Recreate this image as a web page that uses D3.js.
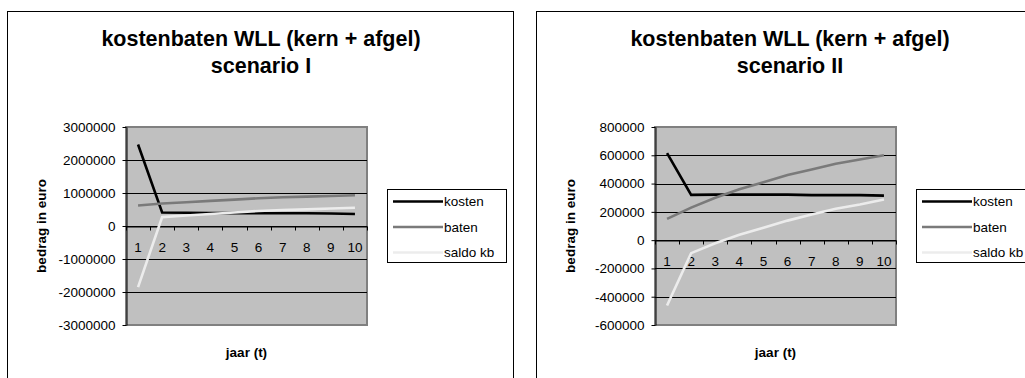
<!DOCTYPE html>
<html>
<head>
<meta charset="utf-8">
<script src="https://cdnjs.cloudflare.com/ajax/libs/d3/7.8.5/d3.min.js"></script>
<style>
  html, body { margin: 0; padding: 0; background: #fff; }
  svg { display: block; font-family: "Liberation Sans", Arial, sans-serif; }
</style>
</head>
<body>
<svg id="graphic" width="1025" height="378"></svg>
<script>
const years = ['1', '2', '3', '4', '5', '6', '7', '8', '9', '10'];
const seriesNames = ['kosten', 'baten', 'saldo kb'];

// scenario I
const kostenI = [2470000, 410000, 400000, 395000, 390000, 385000, 385000, 385000, 380000, 365000];
const batenI = [620000, 680000, 720000, 760000, 800000, 840000, 870000, 890000, 910000, 930000];
const saldoI = [-1850000, 270000, 320000, 365000, 410000, 455000, 485000, 505000, 530000, 555000];
const ticksI = [-3000000, -2000000, -1000000, 0, 1000000, 2000000, 3000000];

// scenario II
const kostenII = [615000, 320000, 322000, 322000, 322000, 322000, 318000, 318000, 318000, 315000];
const batenII = [150000, 230000, 300000, 360000, 410000, 460000, 500000, 540000, 570000, 600000];
const saldoII = [-462000, -92000, -22000, 38000, 88000, 138000, 182000, 222000, 252000, 287000];
const ticksII = [-600000, -400000, -200000, 0, 200000, 400000, 600000, 800000];

const lineColor = ['#000000', '#7a7a7a', '#ececec'];
const svg = d3.select('#graphic');

function drawChart(left, subtitle, series, ticks) {
  const g = svg.append('g').attr('transform', `translate(${left}, 0)`);

  // outer frame
  g.append('rect')
    .attr('x', 0.5).attr('y', 11.5)
    .attr('width', 506).attr('height', 400)
    .attr('fill', '#fff').attr('stroke', '#000').attr('stroke-width', 1);

  const title = g.append('text')
    .attr('text-anchor', 'middle')
    .attr('font-weight', 'bold')
    .attr('font-size', '21.5px');
  title.append('tspan').attr('x', 254).attr('y', 46).text('kostenbaten WLL (kern + afgel)');
  title.append('tspan').attr('x', 254).attr('y', 73).text(subtitle);

  const plot = { x: 119, y: 127, w: 241, h: 198 };
  const x = d3.scaleBand().domain(years).range([plot.x, plot.x + plot.w]);
  const y = d3.scaleLinear().domain(d3.extent(ticks)).range([plot.y + plot.h, plot.y]);

  g.append('rect')
    .attr('x', plot.x).attr('y', plot.y)
    .attr('width', plot.w).attr('height', plot.h)
    .attr('fill', '#c0c0c0').attr('stroke', '#808080').attr('stroke-width', 2);

  // gridlines (inner only)
  g.selectAll('.grid')
    .data(ticks.slice(1, -1))
    .enter().append('line')
    .attr('class', 'grid')
    .attr('x1', plot.x).attr('x2', plot.x + plot.w)
    .attr('y1', d => Math.round(y(d)) + 0.5).attr('y2', d => Math.round(y(d)) + 0.5)
    .attr('stroke', '#000').attr('stroke-width', 1);

  // y axis
  const yAxis = g.append('g')
    .attr('transform', `translate(${plot.x + 0.5}, 0)`)
    .call(d3.axisLeft(y).tickValues(ticks).tickSize(4).tickSizeOuter(0).tickPadding(7).tickFormat(d => String(d)));
  yAxis.select('.domain').attr('stroke', '#000');
  yAxis.selectAll('text').attr('font-size', '13.5px').attr('font-family', 'Liberation Sans, Arial, sans-serif').attr('fill', '#000');

  // x axis at zero
  const y0 = Math.round(y(0)) + 0.5;
  const xAxis = g.append('g')
    .attr('transform', `translate(0, ${y0})`)
    .call(d3.axisBottom(x).tickSize(0).tickPadding(15.5));
  xAxis.select('.domain').attr('stroke', '#000');
  xAxis.selectAll('text').attr('font-size', '13.5px').attr('font-family', 'Liberation Sans, Arial, sans-serif').attr('fill', '#000');
  const bounds = years.map(d => x(d)).concat([x.range()[1]]);
  xAxis.selectAll('.bound')
    .data(bounds)
    .enter().append('line')
    .attr('class', 'bound')
    .attr('x1', d => Math.round(d) + 0.5).attr('x2', d => Math.round(d) + 0.5)
    .attr('y1', 0).attr('y2', 4)
    .attr('stroke', '#000');

  // lines
  const line = d3.line()
    .x((d, i) => x(years[i]) + x.bandwidth() / 2)
    .y(d => y(d));
  series.forEach((s, i) => {
    g.append('path')
      .datum(s)
      .attr('d', line)
      .attr('fill', 'none')
      .attr('stroke', lineColor[i])
      .attr('stroke-width', 2.6)
      .attr('stroke-linejoin', 'miter');
  });

  // axis titles
  g.append('text')
    .attr('transform', `translate(${34}, ${226}) rotate(-90)`)
    .attr('text-anchor', 'middle')
    .attr('dy', '0.35em')
    .attr('font-weight', 'bold').attr('font-size', '13.5px')
    .text('bedrag in euro');
  g.append('text')
    .attr('x', plot.x + plot.w / 2).attr('y', 357)
    .attr('text-anchor', 'middle')
    .attr('font-weight', 'bold').attr('font-size', '13.5px')
    .text('jaar (t)');

  // legend
  const lg = g.append('g').attr('transform', 'translate(380, 189)');
  lg.append('rect')
    .attr('x', 0.5).attr('y', 0.5).attr('width', 119).attr('height', 73)
    .attr('fill', '#fff').attr('stroke', '#000');
  const item = lg.selectAll('.item')
    .data(seriesNames)
    .enter().append('g')
    .attr('class', 'item')
    .attr('transform', (d, i) => `translate(0, ${12.5 + i * 25.5})`);
  item.append('line')
    .attr('x1', 6).attr('x2', 56)
    .attr('stroke', (d, i) => lineColor[i]).attr('stroke-width', 2.6);
  item.append('text')
    .attr('x', 57).attr('dy', '0.36em')
    .attr('font-size', '13.5px')
    .text(d => d);
}

drawChart(7, 'scenario I', [kostenI, batenI, saldoI], ticksI);
drawChart(536, 'scenario II', [kostenII, batenII, saldoII], ticksII);
</script>
</body>
</html>
